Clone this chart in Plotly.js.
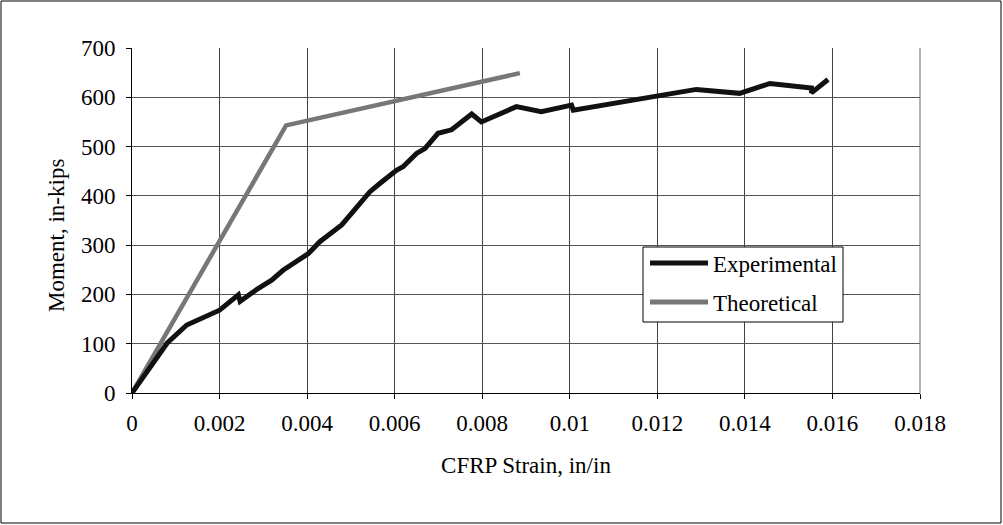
<!DOCTYPE html>
<html>
<head>
<meta charset="utf-8">
<script src="https://cdn.plot.ly/plotly-3.0.1.min.js"></script>
<style>
html,body{margin:0;padding:0;background:#fff;}
#chart{width:1003px;height:525px;}
</style>
</head>
<body>
<div id="chart"></div>
<script>
// Experimental data (CFRP strain, in/in vs moment, in-kips)
var expStrain = [0, 0.0008, 0.00125, 0.0020, 0.00243, 0.00247, 0.00288, 0.00319, 0.00345, 0.00403, 0.00429, 0.00456, 0.00479, 0.00502, 0.00543, 0.00566, 0.00604, 0.00619, 0.0065, 0.00669, 0.00699, 0.0073, 0.00776, 0.00798, 0.00878, 0.00935, 0.01004, 0.01008, 0.01114, 0.01221, 0.01289, 0.01388, 0.01457, 0.01552, 0.01552, 0.0159];
var expMoment = [0, 101, 138, 168, 199, 186, 212, 229, 249, 283, 307, 327, 341, 365, 408, 425, 452, 459, 486, 496, 527, 534, 566, 550, 581, 571, 584, 574, 589, 604, 616, 608, 628, 619, 609, 636];

// Theoretical data
var theoStrain = [0, 0.00352, 0.00886];
var theoMoment = [0, 543, 649];

// Axis ticks
var xTicks = [0, 0.002, 0.004, 0.006, 0.008, 0.01, 0.012, 0.014, 0.016, 0.018];
var xTickText = ["0", "0.002", "0.004", "0.006", "0.008", "0.01", "0.012", "0.014", "0.016", "0.018"];
var yTicks = [0, 100, 200, 300, 400, 500, 600, 700];

var seriesNames = ["Experimental", "Theoretical"];
var seriesColors = ["#111111", "#777777"];
var xTitle = "CFRP Strain, in/in";
var yTitle = "Moment, in-kips";

var font = "Liberation Serif, Times New Roman, serif";

// plot-area pixel geometry
var L = 132, R = 920, T = 48, B = 393;
function px(x){ return (x - L) / (R - L); }
function py(y){ return (B - y) / (B - T); }

var traces = [
  {x: theoStrain, y: theoMoment, mode: "lines", name: seriesNames[1],
   line: {color: seriesColors[1], width: 4.5}, showlegend: false},
  {x: expStrain, y: expMoment, mode: "lines", name: seriesNames[0],
   line: {color: seriesColors[0], width: 5}, showlegend: false}
];

var shapes = [
  // outer chart border
  {type: "rect", xref: "paper", yref: "paper", x0: px(1), x1: px(1001), y0: py(523), y1: py(1),
   line: {color: "#000", width: 1}, fillcolor: "rgba(0,0,0,0)"},
  // right plot-area border
  {type: "line", xref: "paper", yref: "paper", x0: 1, x1: 1, y0: 0, y1: 1, line: {color: "#666", width: 1}},
  // legend box
  {type: "rect", xref: "paper", yref: "paper", x0: px(643), x1: px(843), y0: py(322), y1: py(247),
   line: {color: "#000", width: 1}, fillcolor: "#fff", layer: "above"},
  // legend samples
  {type: "line", xref: "paper", yref: "paper", x0: px(650), x1: px(708), y0: py(263), y1: py(263),
   line: {color: seriesColors[0], width: 5}, layer: "above"},
  {type: "line", xref: "paper", yref: "paper", x0: px(650), x1: px(708), y0: py(302), y1: py(302),
   line: {color: seriesColors[1], width: 5}, layer: "above"}
];

var annotations = [
  {xref: "paper", yref: "paper", x: px(711), y: py(264), xanchor: "left", yanchor: "middle",
   text: seriesNames[0], showarrow: false, font: {family: font, size: 23, color: "#000"}},
  {xref: "paper", yref: "paper", x: px(711), y: py(303), xanchor: "left", yanchor: "middle",
   text: seriesNames[1], showarrow: false, font: {family: font, size: 23, color: "#000"}},
  {xref: "paper", yref: "paper", x: px(56), y: py(236), xanchor: "center", yanchor: "middle",
   textangle: -90, text: yTitle, showarrow: false, font: {family: font, size: 23, color: "#000"}}
];

var layout = {
  width: 1003, height: 525,
  margin: {l: L, r: 1003 - R, t: T, b: 525 - B, pad: 0},
  paper_bgcolor: "#fff", plot_bgcolor: "#fff",
  font: {family: font, size: 23, color: "#000"},
  showlegend: false,
  xaxis: {
    range: [0, 0.018], tickvals: xTicks, ticktext: xTickText,
    showgrid: true, gridcolor: "#444", gridwidth: 1,
    zeroline: false, showline: true, linecolor: "#000", linewidth: 1, mirror: false,
    ticks: "outside", ticklen: 5, tickcolor: "#000", ticklabelstandoff: 4,
    tickfont: {family: font, size: 23},
    title: {text: xTitle, font: {family: font, size: 23}, standoff: 22}
  },
  yaxis: {
    range: [0, 700], tickvals: yTicks,
    showgrid: true, gridcolor: "#555", gridwidth: 1,
    zeroline: false, showline: true, linecolor: "#000", linewidth: 1, mirror: false,
    ticks: "outside", ticklen: 5, tickcolor: "#000", ticklabelstandoff: 6,
    tickfont: {family: font, size: 23}
  },
  shapes: shapes,
  annotations: annotations
};

Plotly.newPlot("chart", traces, layout, {staticPlot: true, displayModeBar: false});
</script>
</body>
</html>
